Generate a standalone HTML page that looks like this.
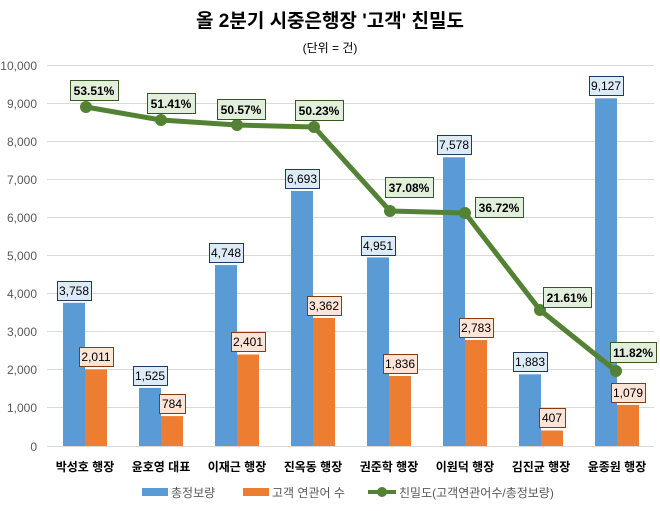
<!DOCTYPE html>
<html><head><meta charset="utf-8"><style>
body{margin:0;background:#fff}
text{font-family:"Liberation Sans","Noto Sans CJK KR",sans-serif}
</style></head><body>
<svg width="660" height="506" xmlns="http://www.w3.org/2000/svg">
<rect width="660" height="506" fill="#fff"/>
<text x="330" y="27" font-size="19" font-weight="bold" text-anchor="middle" fill="#000">올 2분기 시중은행장 '고객' 친밀도</text>
<text x="330" y="52" font-size="12" text-anchor="middle" fill="#000">(단위 = 건)</text>
<g stroke="#d9d9d9" stroke-width="1">
<line x1="47" x2="654" y1="65.5" y2="65.5"/><line x1="47" x2="654" y1="103.5" y2="103.5"/>
<line x1="47" x2="654" y1="141.5" y2="141.5"/><line x1="47" x2="654" y1="179.5" y2="179.5"/>
<line x1="47" x2="654" y1="217.5" y2="217.5"/><line x1="47" x2="654" y1="255.5" y2="255.5"/>
<line x1="47" x2="654" y1="293.5" y2="293.5"/><line x1="47" x2="654" y1="331.5" y2="331.5"/>
<line x1="47" x2="654" y1="369.5" y2="369.5"/><line x1="47" x2="654" y1="407.5" y2="407.5"/>
<line x1="47" x2="654" y1="446.5" y2="446.5"/>
</g>
<g font-size="12" fill="#595959" text-anchor="end">
<text x="37" y="70">10,000</text><text x="37" y="108">9,000</text><text x="37" y="146">8,000</text>
<text x="37" y="184">7,000</text><text x="37" y="222">6,000</text><text x="37" y="260">5,000</text>
<text x="37" y="298">4,000</text><text x="37" y="336">3,000</text><text x="37" y="374">2,000</text>
<text x="37" y="412">1,000</text><text x="37" y="451">0</text>
</g>
<g fill="#5b9bd5">
<rect x="63" y="302.8" width="22" height="143.2"/><rect x="139" y="387.9" width="22" height="58.1"/>
<rect x="215" y="265.1" width="22" height="180.9"/><rect x="291" y="191" width="22" height="255"/>
<rect x="367" y="257.4" width="22" height="188.6"/><rect x="443" y="157.3" width="22" height="288.7"/>
<rect x="519" y="374.3" width="22" height="71.7"/><rect x="595" y="98.3" width="22" height="347.7"/>
</g>
<g fill="#ed7d31">
<rect x="85" y="369.4" width="22" height="76.6"/><rect x="161" y="416.1" width="22" height="29.9"/>
<rect x="237" y="354.5" width="22" height="91.5"/><rect x="313" y="317.9" width="22" height="128.1"/>
<rect x="389" y="376" width="22" height="70"/><rect x="465" y="340" width="22" height="106"/>
<rect x="541" y="430.5" width="22" height="15.5"/><rect x="617" y="404.9" width="22" height="41.1"/>
</g>
<g font-size="12" font-weight="bold" fill="#000" text-anchor="middle">
<text x="85" y="471">박성호 행장</text><text x="161" y="471">윤호영 대표</text><text x="237" y="471">이재근 행장</text>
<text x="313" y="471">진옥동 행장</text><text x="389" y="471">권준학 행장</text><text x="465" y="471">이원덕 행장</text>
<text x="541" y="471">김진균 행장</text><text x="617" y="471">윤종원 행장</text>
</g>
<g fill="#ddebf7" stroke="#1f3864" stroke-width="1">
<rect x="57.5" y="281.5" width="34" height="19"/><rect x="133.5" y="366.5" width="34" height="19"/>
<rect x="209.5" y="243.5" width="34" height="19"/><rect x="285.5" y="169.5" width="34" height="19"/>
<rect x="361.5" y="236.5" width="34" height="19"/><rect x="437.5" y="135.5" width="34" height="19"/>
<rect x="513.5" y="352.5" width="34" height="19"/><rect x="589.5" y="76.5" width="34" height="19"/>
</g>
<g fill="#fce4d6" stroke="#843c0c" stroke-width="1">
<rect x="79.5" y="347.5" width="34" height="19"/><rect x="159.5" y="394.5" width="26" height="19"/>
<rect x="231.5" y="332.5" width="34" height="19"/><rect x="307.5" y="296.5" width="34" height="19"/>
<rect x="383.5" y="354.5" width="34" height="19"/><rect x="459.5" y="318.5" width="34" height="19"/>
<rect x="539.5" y="408.5" width="26" height="19"/><rect x="611.5" y="383.5" width="34" height="19"/>
</g>
<g font-size="12" fill="#000" text-anchor="middle">
<text x="74" y="295">3,758</text><text x="150" y="380">1,525</text><text x="226" y="257">4,748</text>
<text x="302" y="183">6,693</text><text x="378" y="250">4,951</text><text x="454" y="149">7,578</text>
<text x="530" y="366">1,883</text><text x="606" y="90">9,127</text>
<text x="96" y="361">2,011</text><text x="172" y="408">784</text><text x="248" y="346">2,401</text>
<text x="324" y="310">3,362</text><text x="400" y="368">1,836</text><text x="476" y="332">2,783</text>
<text x="552" y="422">407</text><text x="628" y="397">1,079</text>
</g>
<polyline points="86,107 161,120 237,125 314,127 390,211 465,213 540,310 616,371" fill="none" stroke="#548235" stroke-width="5" stroke-linejoin="round"/>
<g fill="#548235">
<circle cx="86" cy="107" r="6"/><circle cx="161" cy="120" r="6"/><circle cx="237" cy="125" r="6"/><circle cx="314" cy="127" r="6"/>
<circle cx="390" cy="211" r="6"/><circle cx="465" cy="213" r="6"/><circle cx="540" cy="310" r="6"/><circle cx="616" cy="371" r="6"/>
</g>
<g font-size="12" font-weight="bold" text-anchor="middle">
<g fill="#e2efda" stroke="#375623" stroke-width="1">
<rect x="70.5" y="80.5" width="48" height="20"/><rect x="147.5" y="93.5" width="48" height="20"/>
<rect x="217.5" y="99.5" width="48" height="20"/><rect x="295.5" y="100.5" width="48" height="20"/>
<rect x="385.5" y="177.5" width="48" height="20"/><rect x="475.5" y="197.5" width="48" height="20"/>
<rect x="543.5" y="287.5" width="48" height="20"/><rect x="610.5" y="342.5" width="46" height="20"/>
</g>
<text x="94" y="95">53.51%</text><text x="171" y="108">51.41%</text><text x="241" y="114">50.57%</text>
<text x="319" y="115">50.23%</text><text x="409" y="192">37.08%</text><text x="499" y="212">36.72%</text>
<text x="567" y="302">21.61%</text><text x="633" y="357">11.82%</text>
</g>
<rect x="142" y="488" width="26" height="8" fill="#5b9bd5"/>
<text x="171" y="497" font-size="12" fill="#595959">총정보량</text>
<rect x="243" y="488" width="26" height="8" fill="#ed7d31"/>
<text x="272" y="497" font-size="12" fill="#595959">고객 연관어 수</text>
<line x1="368" x2="396" y1="492" y2="492" stroke="#548235" stroke-width="4"/>
<circle cx="382" cy="492" r="5" fill="#548235"/>
<text x="399" y="497" font-size="12" fill="#595959">친밀도(고객연관어수/총정보량)</text>
</svg>
</body></html>
